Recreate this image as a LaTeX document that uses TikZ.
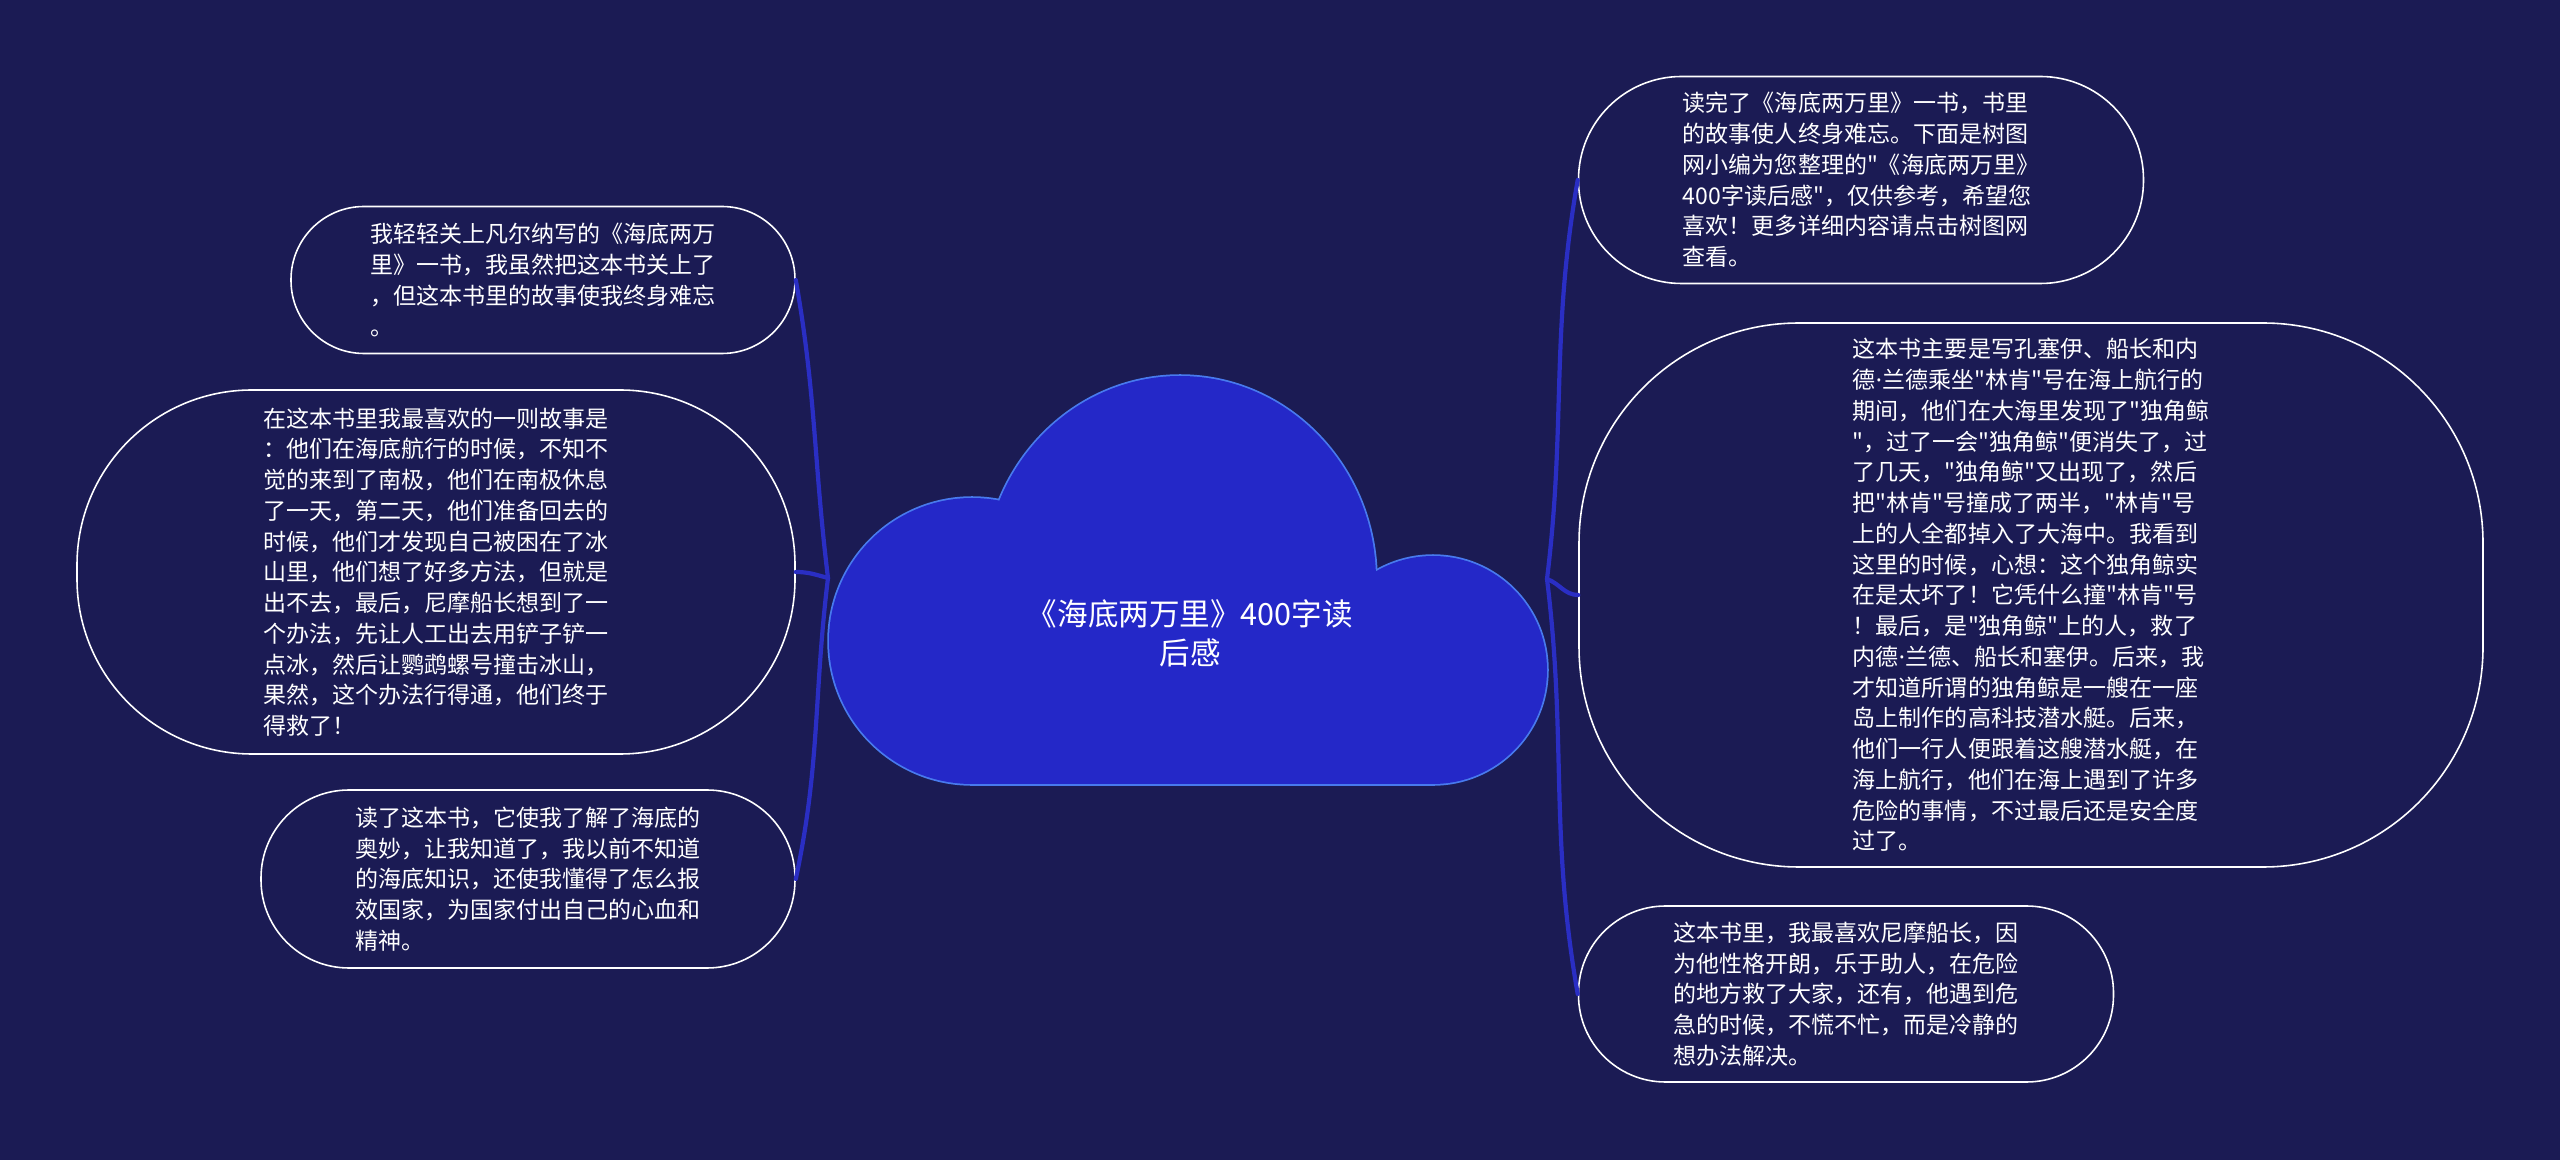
\documentclass[tikz,border=0pt]{standalone}
\usepackage{fontspec}
\setmainfont{Noto Sans CJK SC}[Ligatures=TeXOff]
\newfontfamily\dotfont{Noto Sans}
\usetikzlibrary{calc}
\definecolor{mapNavy}{RGB}{27,27,84}
\definecolor{mapBlue}{RGB}{36,40,200}
\definecolor{mapBlueEdge}{RGB}{72,122,238}
\definecolor{mapLink}{RGB}{42,46,196}
\newcommand{\leaffont}{\fontsize{6.55pt}{8.75pt}\selectfont}
\newcommand{\topicfont}{\fontsize{8.7pt}{11.1pt}\selectfont}
\newcommand{\middot}{{\dotfont ·}}
\tikzset{
  leaf/.style={draw=white, line width=0.45pt, fill=mapNavy, text=white,
    align=left, inner sep=0pt, font=\leaffont},
  topic/.style={text=white, align=center, inner sep=0pt, font=\topicfont},
  puff/.style={fill=mapBlue},
  puffedge/.style={fill=mapBlue, draw=mapBlueEdge, line width=1pt},
  branch/.style={draw=mapLink, line width=1.2pt, line cap=round}
}

\begin{document}
\begin{tikzpicture}[x=1cm,y=1cm]
    \fill[mapNavy] (0,0) rectangle (25.6,11.6);
    \foreach \sty in {puffedge,puff}{
      \path[\sty] (9.72,5.19) circle[radius=1.43];
      \path[\sty] (14.33,4.90) circle[radius=1.14];
      \path[\sty] (11.80,5.80) ellipse[x radius=1.96, y radius=2.04];
      \path[\sty] (9.72,3.76) rectangle (14.33,5.19);
    }
    \node[topic] (topic) at (11.90,5.27) {《海底两万里》400字读\\后感};
    \coordinate (hubL) at (8.28,5.82);
    \coordinate (hubR) at (15.47,5.81);
    \node[leaf, minimum width=5.04cm, minimum height=1.47cm, rounded corners=0.73cm] (l1) at (5.43,8.80)
      {我轻轻关上凡尔纳写的《海底两万\\里》一书，我虽然把这本书关上了\\，但这本书里的故事使我终身难忘\\。};
    \node[leaf, minimum width=7.18cm, minimum height=3.64cm, rounded corners=1.75cm] (l2) at (4.36,5.88)
      {在这本书里我最喜欢的一则故事是\\：他们在海底航行的时候，不知不\\觉的来到了南极，他们在南极休息\\了一天，第二天，他们准备回去的\\时候，他们才发现自己被困在了冰\\山里，他们想了好多方法，但就是\\出不去，最后，尼摩船长想到了一\\个办法，先让人工出去用铲子铲一\\点冰，然后让鹦鹉螺号撞击冰山，\\果然，这个办法行得通，他们终于\\得救了！};
    \node[leaf, minimum width=5.34cm, minimum height=1.78cm, rounded corners=0.88cm] (l3) at (5.28,2.81)
      {读了这本书，它使我了解了海底的\\奥妙，让我知道了，我以前不知道\\的海底知识，还使我懂得了怎么报\\效国家，为国家付出自己的心血和\\精神。};
    \node[leaf, minimum width=5.65cm, minimum height=2.07cm, rounded corners=1.03cm] (r1) at (18.61,9.80)
      {读完了《海底两万里》一书，书里\\的故事使人终身难忘。下面是树图\\网小编为您整理的"《海底两万里》\\400字读后感"，仅供参考，希望您\\喜欢！更多详细内容请点击树图网\\查看。};
    \node[leaf, minimum width=9.04cm, minimum height=5.44cm, rounded corners=2.2cm] (r2) at (20.31,5.65)
      {这本书主要是写孔塞伊、船长和内\\德\middot 兰德乘坐"林肯"号在海上航行的\\期间，他们在大海里发现了"独角鲸\\"，过了一会"独角鲸"便消失了，过\\了几天，"独角鲸"又出现了，然后\\把"林肯"号撞成了两半，"林肯"号\\上的人全都掉入了大海中。我看到\\这里的时候，心想：这个独角鲸实\\在是太坏了！它凭什么撞"林肯"号\\！最后，是"独角鲸"上的人，救了\\内德\middot 兰德、船长和塞伊。后来，我\\才知道所谓的独角鲸是一艘在一座\\岛上制作的高科技潜水艇。后来，\\他们一行人便跟着这艘潜水艇，在\\海上航行，他们在海上遇到了许多\\危险的事情，不过最后还是安全度\\过了。};
    \node[leaf, minimum width=5.35cm, minimum height=1.76cm, rounded corners=0.87cm] (r3) at (18.46,1.66)
      {这本书里，我最喜欢尼摩船长，因\\为他性格开朗，乐于助人，在危险\\的地方救了大家，还有，他遇到危\\急的时候，不慌不忙，而是冷静的\\想办法解决。};
    \draw[branch] (hubL) to[out=97,in=-80] (l1.east);
    \draw[branch] (hubL) to[out=165,in=0] (l2.east);
    \draw[branch] (hubL) to[out=-97,in=78] (l3.east);
    \draw[branch] (hubR) to[out=83,in=-100] (r1.west);
    \draw[branch] (hubR) to[out=-20,in=180] (r2.west);
    \draw[branch] (hubR) to[out=-83,in=100] (r3.west);
  \end{tikzpicture}
\end{document}
